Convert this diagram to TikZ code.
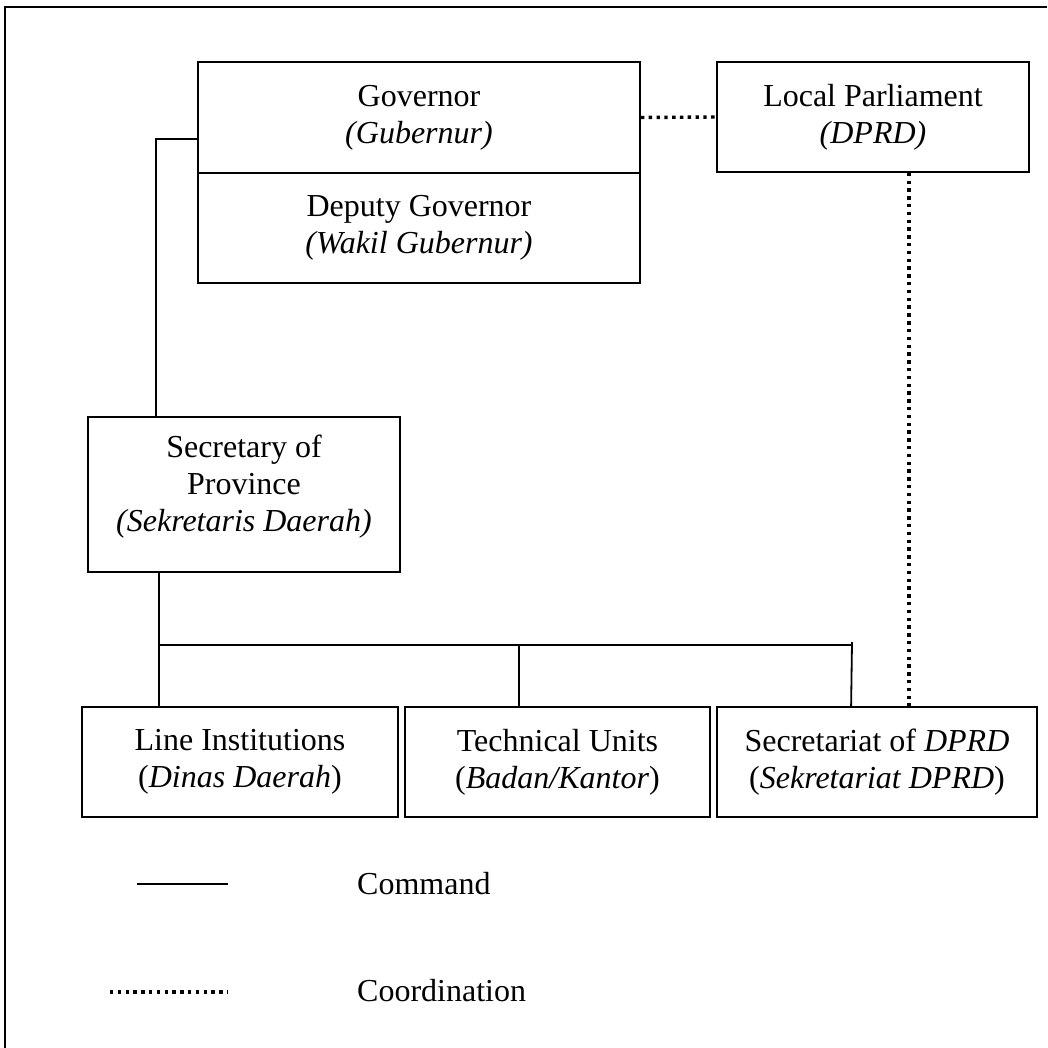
\documentclass[tikz,border=0pt]{standalone}
\usepackage{fontspec}
\setmainfont{Liberation Serif}
\begin{document}
\begin{tikzpicture}[x=1pt,y=-1pt,
  every node/.style={font=\fontsize{32}{37}\selectfont},
  unitbox/.style={draw,line width=1.8pt,rectangle,align=center,inner sep=0pt},
  command/.style={line width=1.8pt},
  coordline/.style={line width=3.4pt,dash pattern=on 3.4pt off 4.4pt},
  legendtext/.style={anchor=west,inner sep=0pt}]
\useasboundingbox (0,0) rectangle (1047,1048);
% page frame (top and left edges)
\draw[line width=2pt] (5,1048) -- (5,7) -- (1047,7);

% boxes
\node[unitbox,minimum width=442pt,minimum height=111pt] (gov) at (419,117.5)
  {Governor\\ \textit{(Gubernur)}};
\node[unitbox,minimum width=442pt,minimum height=110pt] (dep) at (419,228)
  {Deputy Governor\\ \textit{(Wakil Gubernur)}};
\node[unitbox,minimum width=312pt,minimum height=110pt] (lp) at (873,117)
  {Local Parliament\\ \textit{(DPRD)}};
\node[unitbox,minimum width=312pt,minimum height=155pt] (sec) at (244,494.5)
  {Secretary of\\ Province\\ \textit{(Sekretaris Daerah)}\\[-15pt]};
\node[unitbox,minimum width=316pt,minimum height=110pt] (b1) at (240,762)
  {Line Institutions\\ (\textit{Dinas Daerah})};
\node[unitbox,minimum width=305pt,minimum height=110pt] (b2) at (557.5,762)
  {Technical Units\\ (\textit{Badan/Kantor})};
\node[unitbox,minimum width=320pt,minimum height=110pt] (b3) at (877,762)
  {Secretariat of \textit{DPRD}\\ (\textit{Sekretariat DPRD})};

% command lines
\draw[command] ([yshift=-21.5pt]gov.west) -- ++(-41,0) -- ([xshift=69pt]sec.north west);
\draw[command] ([xshift=72pt]sec.south west) -- ([xshift=78pt]b1.north west);
\coordinate (busL) at (160,645);
\coordinate (busR) at (852,645);
\draw[command] (busL) -- (busR);
\draw[command] (busR) ++(0,-3) -- ([xshift=135pt]b3.north west);
\draw[command] (busL -| b2.north west) ++(115,0) -- ([xshift=115pt]b2.north west);

% coordination lines
\draw[coordline] (gov.east) -- (lp.west);
\draw[coordline] ([xshift=-121pt]lp.south east) -- ([xshift=-129pt]b3.north east);

% legend
\node[legendtext] (lgcmd) at (357,884) {Command};
\node[legendtext] (lgcoo) at (357,991) {Coordination};
\coordinate (c1) at (137,884);
\coordinate (c2) at (228,884);
\coordinate (d1) at (110,992);
\coordinate (d2) at (228,992);
\draw[command] (c1) -- (c2);
\draw[coordline] (d1) -- (d2);
\end{tikzpicture}
\end{document}
